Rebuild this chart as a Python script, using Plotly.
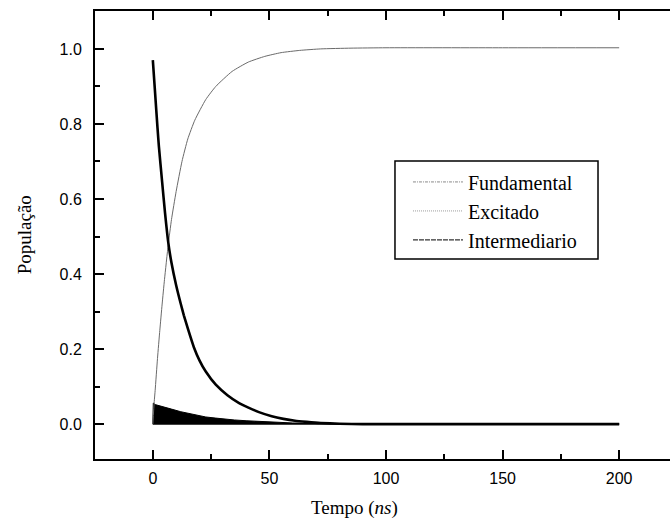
import plotly.graph_objects as go

# ---- data ----
fund_t = [0, 0.6, 1, 2, 3, 4, 5, 6.6, 8, 10, 12.5, 15, 18, 22.7, 27, 34, 41, 48, 55, 63, 72, 85, 100, 150, 200]
fund_v = [0, 0.06, 0.09, 0.175, 0.25, 0.32, 0.385, 0.478, 0.545, 0.62, 0.70, 0.76, 0.81, 0.865, 0.90, 0.94, 0.965, 0.98, 0.99, 0.996, 1.0, 1.002, 1.003, 1.003, 1.003]

inter_t = [0, 1, 2, 2.6, 4, 5.2, 6.6, 8, 10, 12, 13.3, 15, 17.6, 20, 22.7, 27, 32, 37, 41, 45.5, 51, 56, 61, 66, 72, 80, 90, 150, 200]
inter_v = [0.97, 0.88, 0.79, 0.74, 0.645, 0.565, 0.485, 0.43, 0.37, 0.32, 0.29, 0.255, 0.205, 0.17, 0.14, 0.105, 0.077, 0.056, 0.044, 0.032, 0.021, 0.014, 0.009, 0.006, 0.003, 0.001, 0.0, 0.0, 0.0]

exc_t = [0, 0.2, 1, 4, 8, 12, 15.5, 19, 22.7, 27, 31, 35, 40, 45, 50, 55, 60, 70, 80, 100, 150, 200]
exc_upper = [0, 0.056, 0.052, 0.046, 0.040, 0.033, 0.029, 0.023, 0.019, 0.016, 0.013, 0.011, 0.009, 0.007, 0.005, 0.004, 0.003, 0.002, 0.001, 0, 0, 0]
exc_lower = [0, 0, 0, 0, 0, 0, 0, 0, 0, 0, 0, 0, 0, 0, 0, 0, 0, 0, 0, 0, 0, 0]

legend_names = ["Fundamental", "Excitado", "Intermediario"]
x_ticks = [0, 50, 100, 150, 200]
y_ticks = [0.0, 0.2, 0.4, 0.6, 0.8, 1.0]

SERIF = "Liberation Serif, Times New Roman, serif"
SANS = "Liberation Sans, Arial, sans-serif"

fig = go.Figure()

# Excitado: rapidly oscillating band (drawn as envelope)
fig.add_trace(go.Scatter(x=exc_t, y=exc_lower, mode="lines",
                         line=dict(color="black", width=1.5), showlegend=False,
                         hoverinfo="skip"))
fig.add_trace(go.Scatter(x=exc_t, y=exc_upper, mode="lines", fill="tonexty",
                         fillcolor="black", line=dict(color="black", width=1),
                         showlegend=False, hoverinfo="skip"))
# Fundamental
fig.add_trace(go.Scatter(x=fund_t, y=fund_v, mode="lines",
                         line=dict(color="#6a6a6a", width=1, shape="spline", smoothing=0.5),
                         showlegend=False))
# Intermediario
fig.add_trace(go.Scatter(x=inter_t, y=inter_v, mode="lines",
                         line=dict(color="black", width=2.6, shape="spline", smoothing=0.5),
                         showlegend=False))

# legend entries
leg_styles = [dict(color="#8a8a8a", width=1, dash="3px,1px,1px,1px"),
              dict(color="#9a9a9a", width=1, dash="1px,1px"),
              dict(color="#333333", width=1.4, dash="5px,1px")]
for name, st in zip(legend_names, leg_styles):
    fig.add_trace(go.Scatter(x=[None], y=[None], mode="lines", name=name, line=st))

axis_common = dict(showline=True, linecolor="black", linewidth=2, ticks="inside",
                   tickcolor="black", tickwidth=2, ticklen=9, showgrid=False,
                   zeroline=False, tickfont=dict(family=SANS, size=16, color="black"))

fig.update_xaxes(range=[-24.8, 221.8], tickvals=x_ticks, mirror="allticks",
                 minor=dict(dtick=25, tick0=0, ticks="inside", ticklen=5, tickwidth=1.5,
                            tickcolor="black"),
                 ticklabelstandoff=4, **axis_common)
fig.update_yaxes(range=[-0.093, 1.101], tickvals=y_ticks, tickformat=".1f", mirror=False,
                 minor=dict(dtick=0.1, tick0=0, ticks="inside", ticklen=5, tickwidth=1.5,
                            tickcolor="black"),
                 ticklabelstandoff=8, **axis_common)

fig.add_annotation(text="Tempo (<i>ns</i>)", xref="paper", yref="paper", x=0.452, y=-0.109,
                   xanchor="center", yanchor="middle", showarrow=False,
                   font=dict(family=SERIF, size=19, color="black"))
fig.add_annotation(text="População", xref="paper", yref="paper", x=-0.123, y=0.5,
                   xanchor="center", yanchor="middle", textangle=-90, showarrow=False,
                   font=dict(family=SERIF, size=19, color="black"))

# legend frame
fig.add_shape(type="rect", xref="paper", yref="paper",
              x0=0.5217, x1=0.8748, y0=0.4464, y1=0.6652,
              line=dict(color="black", width=1.5), fillcolor="white", layer="below")

fig.update_layout(
    width=670, height=522,
    margin=dict(l=95, r=0, t=11, b=63),
    plot_bgcolor="white", paper_bgcolor="white",
    legend=dict(x=0.5443, y=0.662, xanchor="left", yanchor="top",
                borderwidth=0, bgcolor="rgba(0,0,0,0)", traceorder="normal",
                font=dict(family=SERIF, size=20, color="black"),
                itemwidth=50),
)

fig.write_html("out.html")
